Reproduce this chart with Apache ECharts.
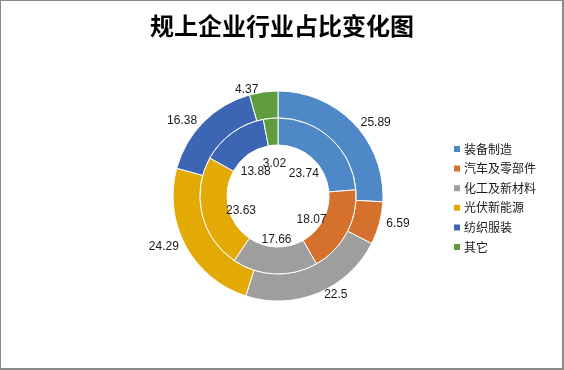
<!DOCTYPE html>
<html>
<head>
<meta charset="utf-8">
<script src="https://cdn.jsdelivr.net/npm/echarts@6/dist/echarts.min.js"></script>
<style>
html,body{margin:0;padding:0;background:#fff;}
#wrap{position:relative;width:564px;height:370px;box-sizing:border-box;border-top:1px solid #8a8a8a;border-left:1px solid #8a8a8a;border-right:2px solid #8a8a8a;border-bottom:2px solid #8a8a8a;}
#chart{position:absolute;left:-1px;top:-1px;width:564px;height:370px;}
</style>
</head>
<body>
<div id="wrap"><div id="chart"></div></div>
<script>
const titleText = '规上企业行业占比变化图';
const categories = ['装备制造', '汽车及零部件', '化工及新材料', '光伏新能源', '纺织服装', '其它'];
const outerValues = [25.89, 6.59, 22.5, 24.29, 16.38, 4.37];
const innerValues = [23.74, 18.07, 17.66, 23.63, 13.88, 3.02];
const colors = ['#4F88C6', '#D5702D', '#9E9E9E', '#E3AA05', '#3C65B3', '#5F9C3D'];

const chart = echarts.init(document.getElementById('chart'), null, {renderer: 'canvas'});
const toData = vals => categories.map((c, i) => ({name: c, value: vals[i]}));
const labelFont = {fontFamily: 'Liberation Sans, Arial, sans-serif', fontSize: 12, color: '#1a1a1a'};
const center = ['278', '196'];
const innerLabelCenter = ['278', '202'];

chart.setOption({
  animation: false,
  color: colors,
  title: {
    text: titleText,
    left: 'center',
    top: 9,
    textStyle: {fontFamily: 'Noto Sans CJK SC', fontWeight: 'bold', fontSize: 24, color: '#000'}
  },
  legend: {
    orient: 'vertical',
    left: 452,
    top: 143,
    padding: 0,
    itemWidth: 8,
    itemHeight: 8,
    itemGap: 7.6,
    icon: 'rect',
    data: categories,
    textStyle: {fontFamily: 'Noto Sans CJK SC', fontSize: 12, color: '#1a1a1a', padding: [0, 0, 0, -2]}
  },
  series: [
    {
      name: 'outer', type: 'pie', center: center, radius: [78, 105], startAngle: 90,
      avoidLabelOverlap: false,
      itemStyle: {borderColor: '#fff', borderWidth: 1},
      label: Object.assign({show: true, position: 'outside', formatter: '{c}'}, labelFont),
      labelLine: {show: false, length: 2, length2: 0},
      data: toData(outerValues)
    },
    {
      name: 'inner', type: 'pie', center: center, radius: [51, 78], startAngle: 90,
      itemStyle: {borderColor: '#fff', borderWidth: 1},
      label: {show: false},
      labelLine: {show: false},
      data: toData(innerValues)
    },
    {
      name: 'innerLabels', type: 'pie', center: innerLabelCenter, radius: [0, 70], startAngle: 90,
      silent: true,
      avoidLabelOverlap: false,
      legendHoverLink: false,
      itemStyle: {color: 'rgba(0,0,0,0)', borderWidth: 0},
      label: Object.assign({show: true, position: 'inside', formatter: '{c}', overflow: 'none'}, labelFont),
      labelLine: {show: false},
      labelLayout: {hideOverlap: false},
      data: toData(innerValues)
    }
  ]
});
</script>
</body>
</html>
